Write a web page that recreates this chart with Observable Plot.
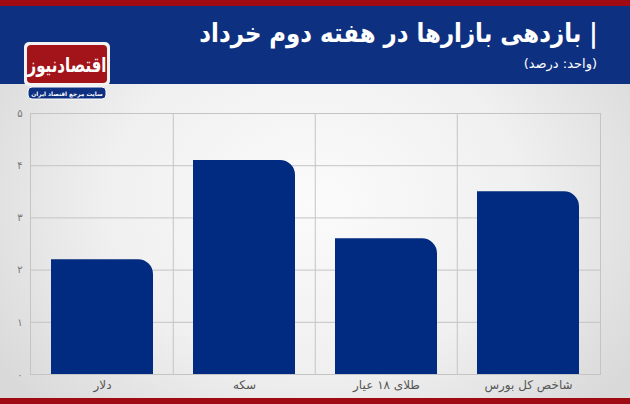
<!DOCTYPE html>
<html><head><meta charset="utf-8">
<script src="https://cdn.jsdelivr.net/npm/d3@7"></script>
<script src="https://cdn.jsdelivr.net/npm/@observablehq/plot@0.6"></script>
<style>
html,body{margin:0;padding:0;}
body{width:630px;height:404px;overflow:hidden;font-family:"DejaVu Sans",sans-serif;}
#wrap{position:relative;width:630px;height:404px;background:radial-gradient(ellipse 60% 75% at 50% 50%, #fbfbfb 0%, #f0f0f0 55%, #d9d9d9 100%);}
#topred{position:absolute;left:0;top:0;width:630px;height:6px;background:#a00a12;}
#header{position:absolute;left:0;top:6px;width:630px;height:78px;background:#0e3081;}
#title{position:absolute;right:32px;top:18px;color:#fff;font-weight:bold;font-size:26px;direction:rtl;white-space:nowrap;transform:scaleX(0.88);transform-origin:right center;}
#sub{position:absolute;right:33px;top:56px;color:#fff;font-size:13px;direction:rtl;white-space:nowrap;}
#logo{position:absolute;left:22px;top:40px;}
#chart{position:absolute;left:0;top:84px;}
#botred{position:absolute;left:0;top:398px;width:630px;height:6px;background:#a00a12;}
</style></head>
<body><div id="wrap">
<div id="topred"></div>
<div id="header"></div>
<div id="title">| بازدهی بازارها در هفته دوم خرداد</div>
<div id="sub">(واحد: درصد)</div>
<div id="chart"></div>
<svg id="logo" width="90" height="62" xmlns="http://www.w3.org/2000/svg">
  <rect x="2" y="2" width="86" height="44" rx="5" fill="#f2f2f2"/>
  <rect x="5" y="5" width="80" height="38" rx="4" fill="#a3141a"/>
  <text transform="translate(45,32) scale(1,1.35)" text-anchor="middle" direction="rtl" fill="#fff" font-family="DejaVu Sans" font-weight="bold" font-size="15">اقتصادنیوز</text>
  <rect x="6" y="47" width="78" height="12" rx="4" fill="#0e3081" stroke="#fff" stroke-width="1"/>
  <text x="45" y="55.5" text-anchor="middle" direction="rtl" fill="#fff" font-family="DejaVu Sans" font-weight="bold" font-size="5.8">سایت مرجع اقتصاد ایران</text>
</svg>
<div id="botred"></div>
</div>
<script>
const categories = ["دلار", "سکه", "طلای ۱۸ عیار", "شاخص کل بورس"];
const values = [2.2, 4.1, 2.6, 3.5];
const yTicks = [0, 1, 2, 3, 4, 5];
const faDigits = "۰۱۲۳۴۵۶۷۸۹";
const toFa = n => String(n).replace(/\d/g, d => faDigits[d]);

const data = categories.map((c, i) => ({cat: c, val: values[i]}));
const W = 630, ML = 30, MR = 30;
const step = (W - ML - MR) / categories.length;
const corner = 15;

// bars with only the top-right corner rounded
function roundedTopRight(index, scales, values, dimensions, context) {
  const g = d3.create("svg:g");
  const bw = scales.x.bandwidth();
  for (const i of index) {
    const x0 = values.x[i], x1 = x0 + bw;
    const yb = values.y1[i], yt = values.y2[i];
    const top = Math.min(yb, yt), bot = Math.max(yb, yt);
    const r = Math.min(corner, bw / 2, bot - top);
    g.append("path")
      .attr("fill", "#002b80")
      .attr("d", `M${x0},${bot}V${top}H${x1 - r}A${r},${r} 0 0 1 ${x1},${top + r}V${bot}Z`);
  }
  return g.node();
}

const chart = Plot.plot({
  width: W, height: 314,
  marginLeft: ML, marginRight: MR, marginTop: 29, marginBottom: 24,
  style: {background: "transparent", fontFamily: "DejaVu Sans, sans-serif"},
  x: {domain: categories, paddingInner: 0.284, paddingOuter: 0.142, label: null},
  y: {domain: [0, 5], label: null},
  marks: [
    Plot.gridY(yTicks, {stroke: "#c4c4c4", strokeOpacity: 1, strokeWidth: 1}),
    Plot.ruleX(categories.slice(1), {x: d => d, dx: -step / 2, stroke: "#c4c4c4", strokeWidth: 1}),
    Plot.frame({stroke: "#c4c4c4", strokeWidth: 1}),
    Plot.barY(data, {x: "cat", y: "val", fill: "#002b80", render: roundedTopRight}),
    Plot.axisY(yTicks, {tickSize: 0, tickPadding: 8, tickFormat: toFa, fill: "#777", fontSize: 10, label: null}),
    Plot.axisX({tickSize: 0, tickPadding: 6, fill: "#555", fontSize: 12, label: null})
  ]
});
document.getElementById("chart").appendChild(chart);
</script>
</body></html>
